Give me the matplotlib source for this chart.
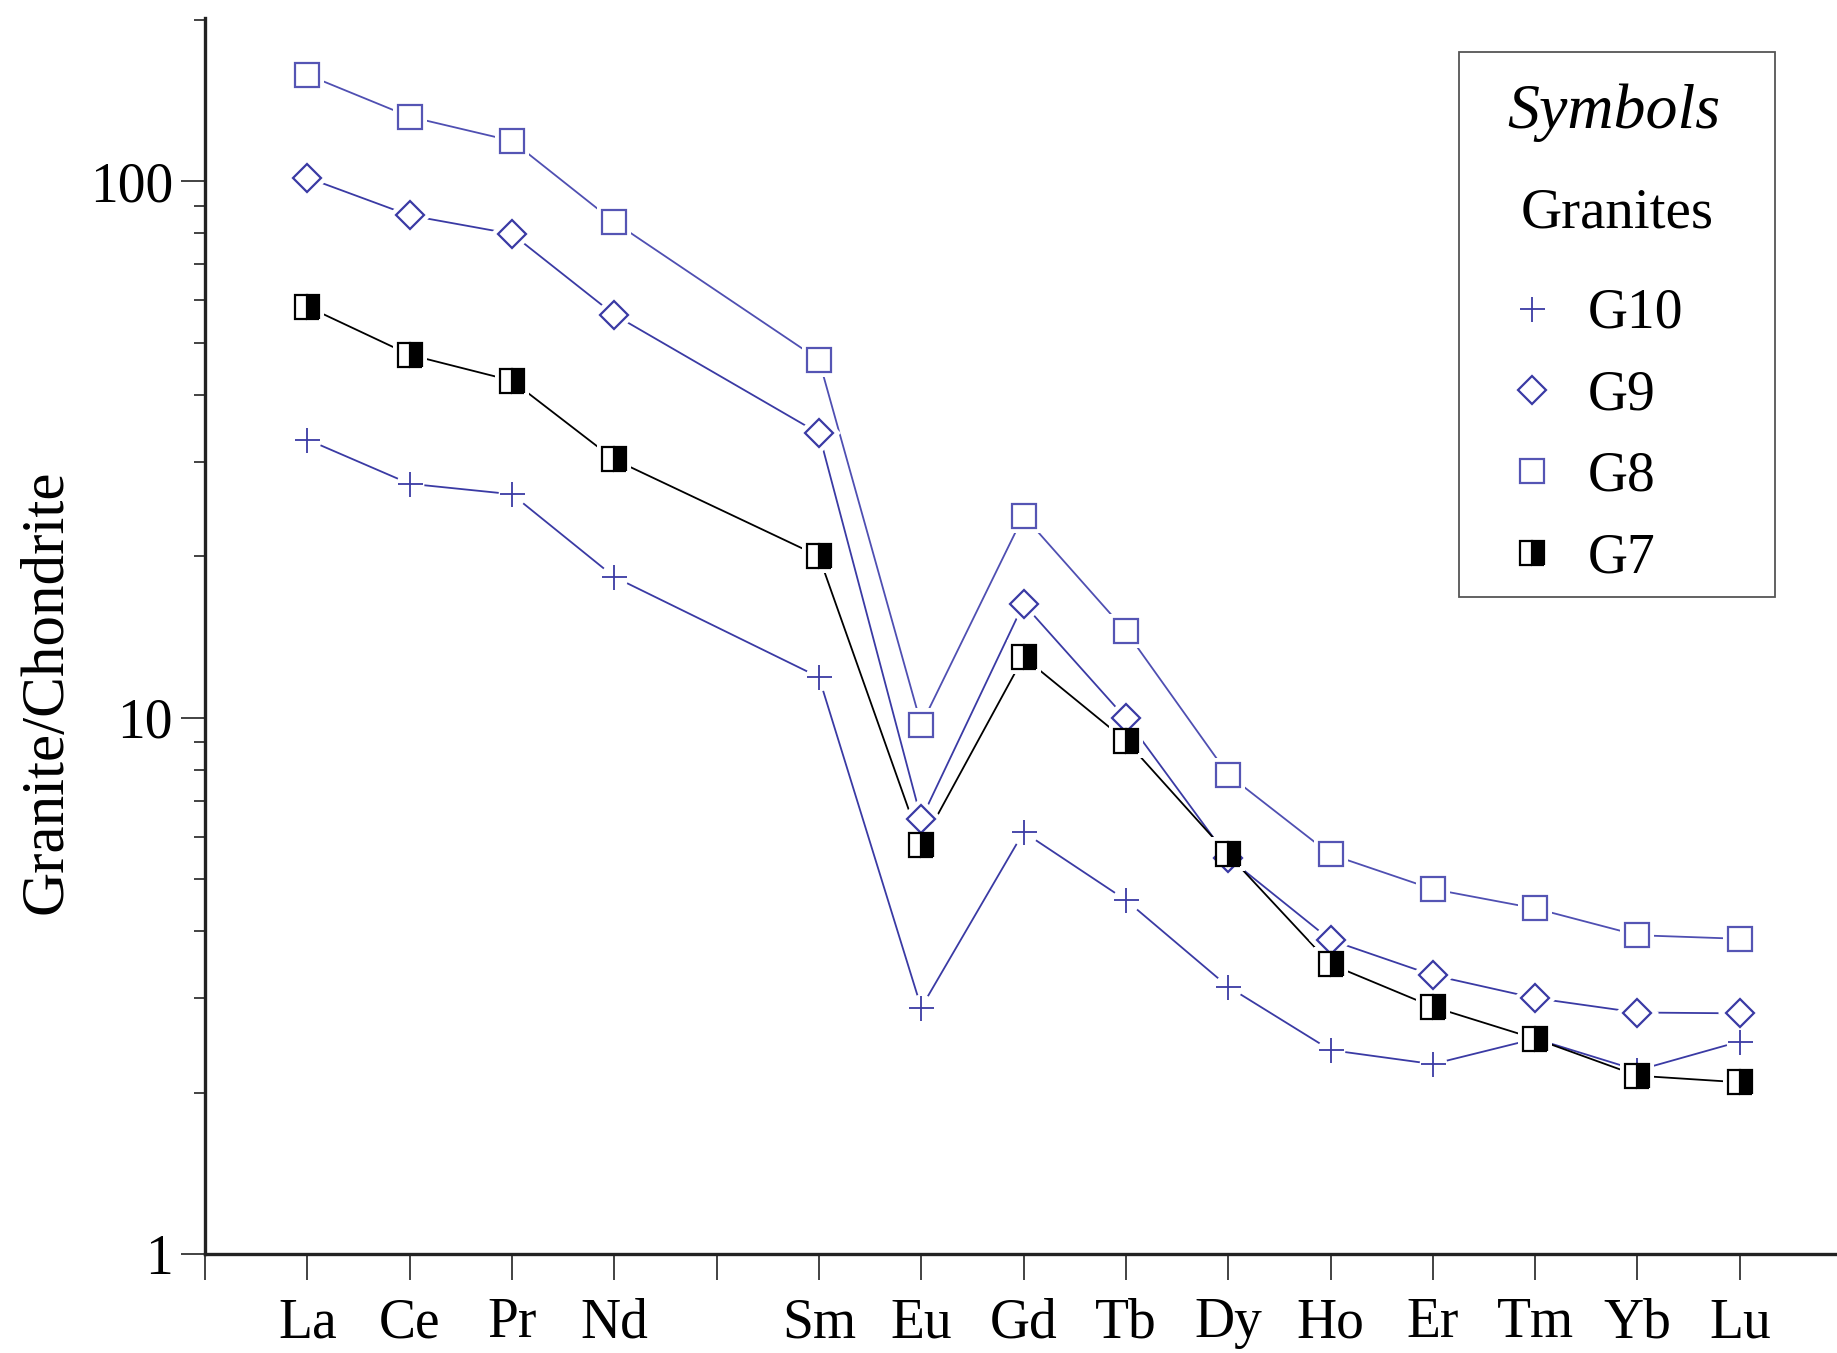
import matplotlib
matplotlib.use("Agg")
import matplotlib.pyplot as plt
from matplotlib.patches import Rectangle

plt.rcParams['font.family'] = ['Liberation Serif', 'DejaVu Serif']

# ---------------- data ----------------
elements = ["La", "Ce", "Pr", "Nd", "Pm", "Sm", "Eu", "Gd", "Tb", "Dy", "Ho", "Er", "Tm", "Yb", "Lu"]
plotted = ["La", "Ce", "Pr", "Nd", "Sm", "Eu", "Gd", "Tb", "Dy", "Ho", "Er", "Tm", "Yb", "Lu"]

g10 = [33.0, 27.3, 26.1, 18.3, 11.9, 2.88, 6.12, 4.57, 3.15, 2.40, 2.26, 2.52, 2.20, 2.49]
g9 = [101.6, 86.4, 79.8, 56.4, 33.9, 6.47, 16.3, 9.97, 5.48, 3.85, 3.31, 3.00, 2.82, 2.81]
g8 = [158.0, 132.0, 119.0, 84.0, 46.5, 9.7, 23.8, 14.5, 7.83, 5.56, 4.79, 4.41, 3.93, 3.87]
g7 = [58.4, 47.5, 42.5, 30.3, 20.0, 5.79, 12.97, 9.06, 5.56, 3.47, 2.89, 2.52, 2.15, 2.09]

series_names = ["G10", "G9", "G8", "G7"]
series_values = [g10, g9, g8, g7]

# ---------------- style ----------------
blue = "#3a3aa4"
styles = {
    "G10": dict(marker="+", color=blue, ms=18, mew=1.3, mfc="none", mec=blue),
    "G9": dict(marker="D", color=blue, ms=14, mew=1.6, mfc="white", mec=blue),
    "G8": dict(marker="s", color="#4f4fb2", ms=17, mew=1.6, mfc="white", mec="#5555b4"),
    "G7": dict(marker="s", color="black", ms=17, mew=1.6, mfc="black", mec="black",
               fillstyle="right", mfcalt="white"),
}

fig = plt.figure(figsize=(18.37, 13.53), dpi=100)
ax = fig.add_axes([205 / 1837, 1 - 1254 / 1353, 1 - 205 / 1837, (1254 - 17.6) / 1353])

xpos = {e: i + 1 for i, e in enumerate(elements)}
xs = [xpos[e] for e in plotted]

handles = {}
for name, vals in zip(series_names, series_values):
    st = styles[name]
    # connecting line
    ax.plot(xs, vals, color=st["color"], lw=1.3, zorder=2, solid_joinstyle="miter")
    # white halo to make the gap between line and marker
    halo_marker = "o" if st["marker"] == "+" else st["marker"]
    halo_ms = st["ms"] + 8 if st["marker"] != "+" else st["ms"] + 2
    ax.plot(xs, vals, linestyle="none", marker=halo_marker, ms=halo_ms,
            mfc="white", mec="white", mew=0, zorder=3)
    kw = dict(linestyle="none", marker=st["marker"], ms=st["ms"], mew=st["mew"],
              mec=st["mec"], mfc=st["mfc"], zorder=4)
    if "fillstyle" in st:
        kw["fillstyle"] = st["fillstyle"]
        kw["markerfacecoloralt"] = st["mfcalt"]
    h, = ax.plot(xs, vals, **kw)
    handles[name] = h

ax.set_yscale("log")
ax.set_ylim(1, 202)
ax.set_xlim(0, 15.95)

ax.set_xticks(range(0, 16))
ax.set_xticklabels([""] + [e if e != "Pm" else "" for e in elements])
ax.set_yticks([1, 10, 100])
ax.set_yticklabels(["1", "10", "100"])

for s in ["top", "right"]:
    ax.spines[s].set_visible(False)
ax.spines["left"].set_linewidth(2.4)
ax.spines["bottom"].set_linewidth(2.4)
ax.spines["left"].set_color("#222222")
ax.spines["bottom"].set_color("#222222")

ax.tick_params(axis="x", which="major", direction="out", length=19, width=1.2,
               labelsize=40, pad=12, colors="#222222", labelcolor="black")
ax.tick_params(axis="y", which="major", direction="out", length=17, width=1.2,
               labelsize=40, pad=6, colors="#222222", labelcolor="black")
ax.tick_params(axis="y", which="minor", direction="out", length=8, width=1.2, colors="#222222")
ax.yaxis.set_minor_locator(matplotlib.ticker.LogLocator(base=10, subs=range(2, 10)))
ax.yaxis.set_minor_formatter(matplotlib.ticker.NullFormatter())

ax.set_ylabel("Granite/Chondrite", fontsize=44)
ax.yaxis.set_label_coords(-0.080, 0.455)

# ---------------- legend box ----------------
fig.patches.append(Rectangle((1459 / 1837, 1 - 597 / 1353), 316 / 1837, 545 / 1353,
                             transform=fig.transFigure, fill=False, lw=1.3,
                             edgecolor="#555555", zorder=5))
fig.text(1614 / 1837, 1 - 113 / 1353, "Symbols", fontsize=46, style="italic",
         ha="center", va="center")
fig.text(1617 / 1837, 1 - 213 / 1353, "Granites", fontsize=41,
         ha="center", va="center")

leg = ax.legend([handles[n] for n in series_names], series_names,
                loc="upper left", bbox_to_anchor=(1504 / 1837, 1 - 288 / 1353),
                bbox_transform=fig.transFigure, frameon=False, fontsize=40,
                handlelength=1.0, handletextpad=0.5, labelspacing=0.53,
                borderpad=0, borderaxespad=0)

fig.savefig("out.png", dpi=100, facecolor="white")
